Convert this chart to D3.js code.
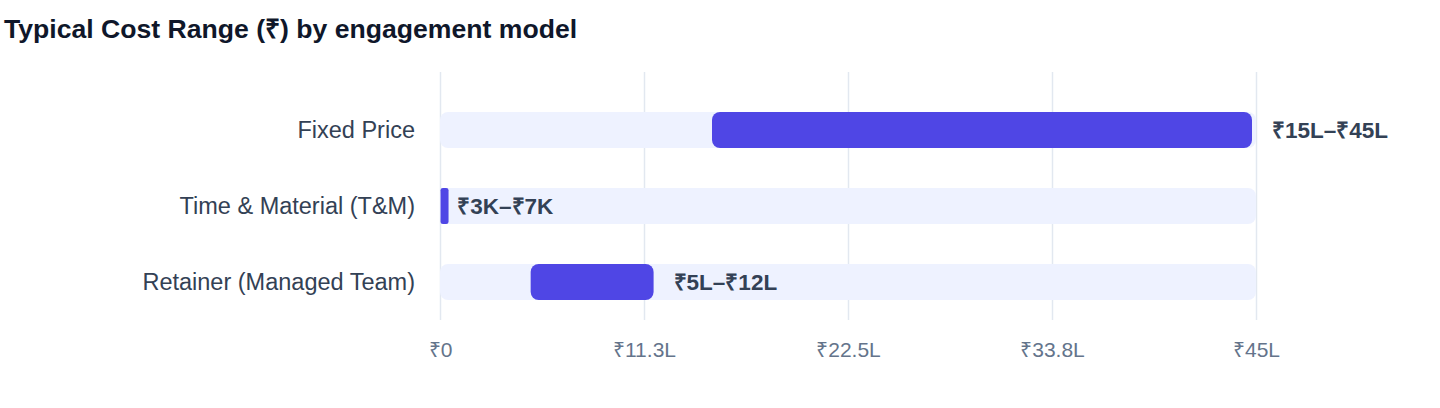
<!DOCTYPE html>
<html>
<head>
<meta charset="utf-8">
<script src="https://cdn.jsdelivr.net/npm/d3@7"></script>
<style>
  html, body { margin: 0; padding: 0; background: #fff; }
  body { font-family: "Liberation Sans", Arial, Helvetica, sans-serif; }
</style>
</head>
<body>
<div id="chart"></div>
<script>
// engagement models, top to bottom
const categories = ["Fixed Price", "Time & Material (T&M)", "Retainer (Managed Team)"];
// cost range in rupees
const lowValues  = [1500000, 3000, 500000];
const highValues = [4500000, 7000, 1200000];
const rangeLabels = ["₹15L–₹45L", "₹3K–₹7K", "₹5L–₹12L"];

const xMax = 4500000;
const tickValues = [0, 1125000, 2250000, 3375000, 4500000];
const tickLabels = ["₹0", "₹11.3L", "₹22.5L", "₹33.8L", "₹45L"];

const width = 1440, height = 408;
const m = { left: 440, right: 184 };

const svg = d3.select("#chart").append("svg")
  .attr("width", width)
  .attr("height", height)
  .attr("viewBox", [0, 0, width, height]);

svg.append("text")
  .attr("x", 4)
  .attr("y", 38)
  .attr("font-size", 26.6)
  .attr("font-weight", 700)
  .attr("fill", "#0f172a")
  .text("Typical Cost Range (₹) by engagement model");

const x = d3.scaleLinear()
  .domain([0, xMax])
  .range([m.left, width - m.right]);

const y = d3.scaleBand()
  .domain(categories)
  .range([92, 320])
  .paddingInner(1 - 36 / 76)
  .paddingOuter((1 - 36 / 76) / 2);

// grid lines + tick labels
const xAxis = svg.append("g")
  .attr("transform", "translate(0,320)")
  .call(d3.axisBottom(x)
    .tickValues(tickValues)
    .tickFormat((d, i) => tickLabels[i])
    .tickSize(-248)
    .tickPadding(22));
xAxis.select(".domain").remove();
xAxis.selectAll(".tick line").attr("stroke", "#e2e8f0").attr("stroke-width", 1.5);
xAxis.selectAll(".tick text")
  .attr("fill", "#64748b")
  .attr("font-size", 21)
  .attr("font-family", "'Liberation Sans', Arial, sans-serif");

// category labels
svg.append("g")
  .selectAll("text")
  .data(categories)
  .join("text")
  .attr("x", m.left - 25)
  .attr("y", d => y(d) + y.bandwidth() / 2)
  .attr("dy", "0.35em")
  .attr("text-anchor", "end")
  .attr("font-size", 23.5)
  .attr("fill", "#334155")
  .text(d => d);

const rows = categories.map((c, i) => ({
  cat: c, lo: lowValues[i], hi: highValues[i], label: rangeLabels[i]
}));

// background tracks
svg.append("g")
  .selectAll("rect")
  .data(rows)
  .join("rect")
  .attr("x", x(0))
  .attr("y", d => y(d.cat))
  .attr("width", x(xMax) - x(0))
  .attr("height", y.bandwidth())
  .attr("rx", 8)
  .attr("fill", "#eef2ff");

// range bars
svg.append("g")
  .selectAll("rect")
  .data(rows)
  .join("rect")
  .attr("x", d => x(d.lo))
  .attr("y", d => y(d.cat))
  .attr("width", d => Math.max(8, x(d.hi) - x(d.lo) - 4))
  .attr("height", y.bandwidth())
  .attr("rx", d => Math.min(8, (x(d.hi) - x(d.lo)) / 2 + 2))
  .attr("fill", "#4f46e5");

// range labels
svg.append("g")
  .selectAll("text")
  .data(rows)
  .join("text")
  .attr("x", d => x(d.hi) + 16)
  .attr("y", d => y(d.cat) + y.bandwidth() / 2)
  .attr("dy", "0.35em")
  .attr("font-size", 22.5)
  .attr("font-weight", 700)
  .attr("fill", "#334155")
  .text(d => d.label);
</script>
</body>
</html>
